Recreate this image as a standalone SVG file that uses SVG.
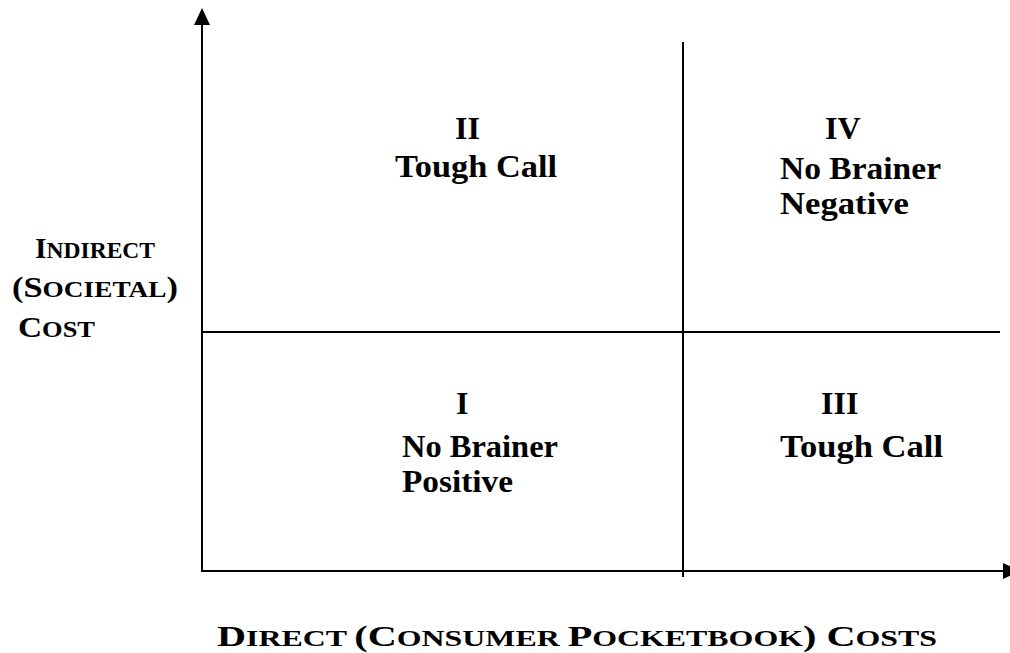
<svg xmlns="http://www.w3.org/2000/svg" width="1010" height="653" viewBox="0 0 1010 653">
<style>
.ln{stroke:#000;stroke-width:2;fill:none}
.ah{fill:#000}
.t{font-family:"Liberation Serif","Times New Roman",serif;font-weight:bold;font-size:32px;fill:#000}
.sc{font-family:"Liberation Serif","Times New Roman",serif;font-weight:bold;fill:#000}
.big{font-size:29px}
.sm{font-size:23px}
</style>
<rect width="1010" height="653" fill="#fff"/>
<g id="connectors">
<line class="ln" x1="202" y1="22" x2="202" y2="572"/>
<polygon class="ah" points="202,8 194,25 210,25"/>
<line class="ln" x1="202" y1="571" x2="1005" y2="571"/>
<polygon class="ah" points="1003,563 1020,571 1003,579"/>
<line class="ln" x1="683" y1="42" x2="683" y2="577"/>
<line class="ln" x1="202" y1="332" x2="1000" y2="332"/>
</g>
<g id="q2">
<text class="t" x="455" y="139">II</text>
<text class="t" x="395" y="177" textLength="162" lengthAdjust="spacingAndGlyphs">Tough Call</text>
</g>
<g id="q4">
<text class="t" x="825" y="139">IV</text>
<text class="t" x="780" y="179" textLength="161" lengthAdjust="spacingAndGlyphs">No Brainer</text>
<text class="t" x="780" y="214" textLength="129" lengthAdjust="spacingAndGlyphs">Negative</text>
</g>
<g id="q1">
<text class="t" x="456" y="414">I</text>
<text class="t" x="402" y="457" textLength="156" lengthAdjust="spacingAndGlyphs">No Brainer</text>
<text class="t" x="402" y="492" textLength="111" lengthAdjust="spacingAndGlyphs">Positive</text>
</g>
<g id="q3">
<text class="t" x="821" y="414">III</text>
<text class="t" x="780" y="457" textLength="163" lengthAdjust="spacingAndGlyphs">Tough Call</text>
</g>
<g id="ylabel">
<text class="sc" x="35" y="258" textLength="120" lengthAdjust="spacingAndGlyphs"><tspan class="big">I</tspan><tspan class="sm">NDIRECT</tspan></text>
<text class="sc" x="12" y="297" textLength="166" lengthAdjust="spacingAndGlyphs"><tspan class="big">(S</tspan><tspan class="sm">OCIETAL</tspan><tspan class="big">)</tspan></text>
<text class="sc" x="18" y="337" textLength="77" lengthAdjust="spacingAndGlyphs"><tspan class="big">C</tspan><tspan class="sm">OST</tspan></text>
</g>
<g id="xlabel">
<text class="sc" x="217" y="646" textLength="720" lengthAdjust="spacingAndGlyphs"><tspan class="big">D</tspan><tspan class="sm">IRECT </tspan><tspan class="big">(C</tspan><tspan class="sm">ONSUMER </tspan><tspan class="big">P</tspan><tspan class="sm">OCKETBOOK</tspan><tspan class="big">) C</tspan><tspan class="sm">OSTS</tspan></text>
</g>
</svg>
